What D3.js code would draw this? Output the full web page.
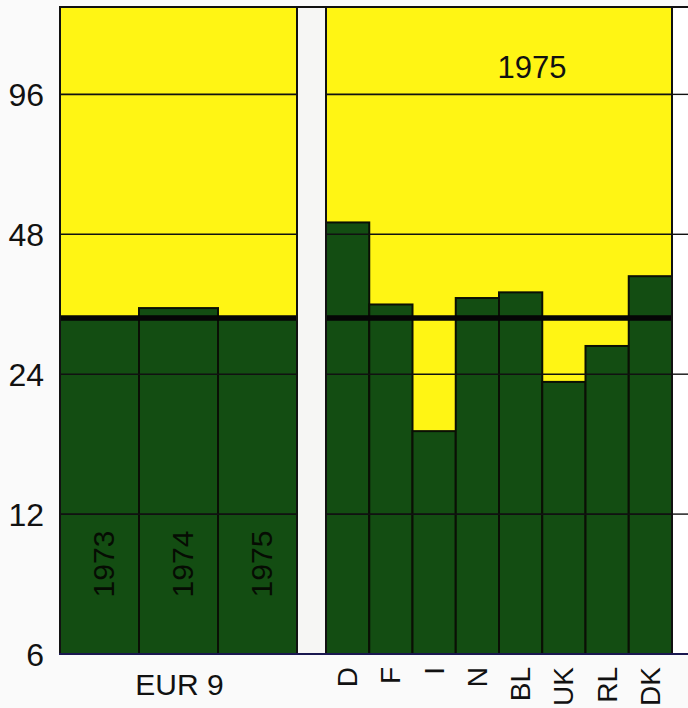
<!DOCTYPE html>
<html>
<head>
<meta charset="utf-8">
<script src="https://cdn.jsdelivr.net/npm/d3@7"></script>
<style>
  html, body { margin: 0; padding: 0; background: #fafafa; }
  svg { display: block; font-family: "Liberation Sans", Arial, Helvetica, sans-serif; }
</style>
</head>
<body>
<svg id="chart" width="688" height="708"></svg>
<script>
// ---- data ----
const yTicks = [6, 12, 24, 48, 96];
const yMin = 6;
const yMax = 148;
const eurYears = ["1973", "1974", "1975"];
const eurValues = [31.7, 33.3, 31.7];
const groupLabel = "EUR 9";
const countries = ["D", "F", "I", "N", "BL", "UK", "RL", "DK"];
const countryValues = [50.9, 33.9, 18.1, 35.0, 36.0, 23.1, 27.6, 39.0];
const refValue = 31.7;
const panelTitle = "1975";

// ---- layout ----
const plotTop = 7, plotBottom = 654;
const leftPanel = [60, 297];
const rightPanel = [326, 672];
const rightEdge = 688;
const yellow = "#fff514";
const green = "#134d12";

const svg = d3.select("#chart");
const y = d3.scaleLog().domain([yMin, yMax]).range([plotBottom, plotTop]);

const xL = d3.scaleBand().domain(eurYears).range(leftPanel).padding(0);
const xR = d3.scaleBand().domain(countries).range(rightPanel).padding(0);

// white area right of right panel
svg.append("rect").attr("x", rightPanel[1]).attr("y", plotTop).attr("width", rightEdge - rightPanel[1]).attr("height", plotBottom - plotTop).attr("fill", "#ffffff");
// gap between panels
svg.append("rect").attr("x", leftPanel[1]).attr("y", plotTop).attr("width", rightPanel[0] - leftPanel[1]).attr("height", plotBottom - plotTop).attr("fill", "#f6f6f4");

function panel(x, cats, vals, range) {
  const g = svg.append("g");
  g.append("rect").attr("x", range[0]).attr("y", plotTop).attr("width", range[1] - range[0]).attr("height", plotBottom - plotTop).attr("fill", yellow);
  g.selectAll("rect.bar").data(cats.map((c, i) => ({c, v: vals[i]}))).join("rect")
    .attr("class", "bar")
    .attr("x", d => x(d.c)).attr("width", x.bandwidth())
    .attr("y", d => y(d.v)).attr("height", d => plotBottom - y(d.v))
    .attr("fill", green).attr("stroke", "#0a0f05").attr("stroke-width", 2);
  // grid lines
  g.selectAll("line.grid").data(yTicks.filter(t => t > yMin)).join("line")
    .attr("class", "grid")
    .attr("x1", range[0]).attr("x2", range[1])
    .attr("y1", d => y(d)).attr("y2", d => y(d))
    .attr("stroke", "#111").attr("stroke-width", 1.6);
  // reference line
  g.append("line").attr("x1", range[0]).attr("x2", range[1])
    .attr("y1", y(refValue)).attr("y2", y(refValue))
    .attr("stroke", "#050505").attr("stroke-width", 5.5);
  // border
  g.append("rect").attr("x", range[0]).attr("y", plotTop).attr("width", range[1] - range[0]).attr("height", plotBottom - plotTop)
    .attr("fill", "none").attr("stroke", "#111").attr("stroke-width", 2);
  return g;
}

panel(xL, eurYears, eurValues, leftPanel);
panel(xR, countries, countryValues, rightPanel);

// right-side tick extensions
svg.selectAll("line.rtick").data(yTicks.filter(t => t > yMin)).join("line")
  .attr("class", "rtick")
  .attr("x1", rightPanel[1]).attr("x2", rightEdge)
  .attr("y1", d => y(d)).attr("y2", d => y(d))
  .attr("stroke", "#111").attr("stroke-width", 1.4);

// top border across
svg.append("line").attr("x1", leftPanel[0] - 1).attr("x2", rightEdge).attr("y1", plotTop).attr("y2", plotTop)
  .attr("stroke", "#111").attr("stroke-width", 2);
// bottom axis line
svg.append("line").attr("x1", leftPanel[0] - 1).attr("x2", rightEdge).attr("y1", plotBottom).attr("y2", plotBottom)
  .attr("stroke", "#1a1850").attr("stroke-width", 2);

// y axis labels
const yAxis = d3.axisLeft(y).tickValues(yTicks).tickFormat(d3.format("d")).tickSize(0).tickPadding(0);
const ya = svg.append("g").attr("transform", "translate(44,0)").call(yAxis);
ya.select(".domain").remove();
ya.selectAll("text").attr("font-size", 32).attr("fill", "#111").attr("font-family", "'Liberation Sans', Arial, sans-serif").attr("dy", "0.36em");

// year labels inside EUR 9 bars
svg.selectAll("text.year").data(eurYears).join("text")
  .attr("class", "year")
  .attr("transform", d => `translate(${xL(d) + xL.bandwidth() / 2 + 4},564) rotate(-90)`)
  .attr("text-anchor", "middle").attr("dominant-baseline", "central")
  .attr("font-size", 30).attr("fill", "#060c03")
  .text(d => d);

// group label
svg.append("text").attr("x", (leftPanel[0] + leftPanel[1]) / 2 + 1).attr("y", 695)
  .attr("text-anchor", "middle").attr("font-size", 30).attr("fill", "#111").text(groupLabel);

// country labels
svg.selectAll("text.country").data(countries).join("text")
  .attr("class", "country")
  .attr("transform", d => `translate(${xR(d) + xR.bandwidth() / 2},667) rotate(-90)`)
  .attr("text-anchor", "end").attr("dominant-baseline", "central")
  .attr("font-size", 28).attr("fill", "#111")
  .text(d => d);

// panel title
svg.append("text").attr("x", 532).attr("y", 78).attr("text-anchor", "middle")
  .attr("font-size", 31).attr("fill", "#111").text(panelTitle);
</script>
</body>
</html>
